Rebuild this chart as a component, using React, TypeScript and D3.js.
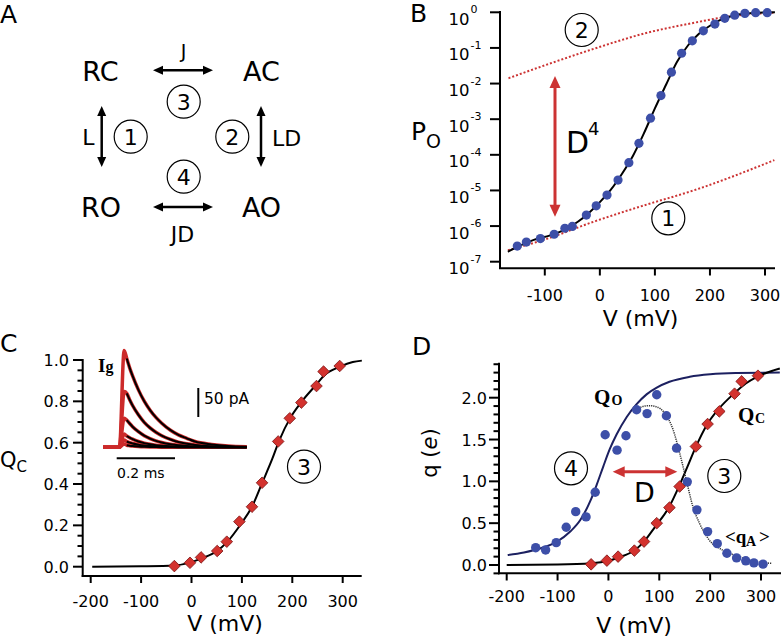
import React from 'react';
import * as d3 from 'd3';

const W = 781, H = 639;
const SANS = "'DejaVu Sans', Verdana, sans-serif";
const SERIF = "'Liberation Serif', 'DejaVu Serif', serif";
const BLUE = '#3d4fa8';
const RED = '#d3322e';
const RED_LINE = '#cc3333';
const NAVY = '#1c2060';

// ---------- Panel B data ----------
const poV = [-150, -133.5, -108, -83, -63.5, -50, -24.5, -6.6, 13, 33, 52.7, 71, 92, 111, 130, 148.5, 168, 188, 209, 227, 245, 263.5, 283, 304];
const poVal = [2.75e-7, 3.55e-7, 4.47e-7, 5.89e-7, 8.7e-7, 9.8e-7, 2.04e-6, 3.7e-6, 7.4e-6, 1.95e-5, 6.0e-5, 2.1e-4, 1.07e-3, 4.6e-3, 0.0209, 0.0708, 0.158, 0.302, 0.468, 0.676, 0.832, 0.933, 0.977, 0.977];
const poFitV = [-167, -150, -120, -90, -60, -40, -20, 0, 20, 40, 60, 80, 100, 120, 140, 160, 180, 200, 220, 240, 260, 280, 300, 318];
const poFitVal = [1.9e-7, 2.6e-7, 4.1e-7, 5.5e-7, 8.5e-7, 1.32e-6, 2.34e-6, 4.7e-6, 1.05e-5, 2.9e-5, 9.3e-5, 4.0e-4, 2.0e-3, 9.1e-3, 0.04, 0.117, 0.25, 0.42, 0.62, 0.79, 0.91, 0.966, 0.99, 1.0];
const lim1V = [-167, -100, -8, 80, 172, 317];
const lim1Val = [2.1e-7, 4.2e-7, 1.38e-6, 3.8e-6, 1.02e-5, 7.1e-5];
const lim2V = [-166, -98.5, -8, 82, 172.6, 233, 317];
const lim2Val = [0.0141, 0.0331, 0.0977, 0.257, 0.513, 0.759, 0.977];
const poTicks = [1e-7, 1e-6, 1e-5, 1e-4, 1e-3, 1e-2, 1e-1, 1];
const poExps = ['-7', '-6', '-5', '-4', '-3', '-2', '-1', '0'];
const vTicksB = [-100, 0, 100, 200, 300];

// ---------- Panel C / D charge data ----------
const qV = [-34, -3, 19, 51, 70, 95, 120, 140, 172, 195, 218, 248, 262, 294];
const qcNorm = [0.003, 0.019, 0.045, 0.076, 0.121, 0.218, 0.29, 0.406, 0.606, 0.718, 0.794, 0.874, 0.944, 0.971];
const qcFitV = [-197, -100, -34, 0, 20, 50, 71, 99, 120, 141, 160, 174, 196, 219, 249, 263, 295, 320, 338];
const qcFitVal = [0, 0.002, 0.006, 0.022, 0.04, 0.075, 0.12, 0.21, 0.29, 0.41, 0.52, 0.61, 0.72, 0.80, 0.885, 0.925, 0.968, 0.99, 0.997];
const qTicksC = [0, 0.2, 0.4, 0.6, 0.8, 1.0];
const vTicks = [-200, -100, 0, 100, 200, 300];

// gating current inset (t in ms, I in pA)
const igT = [0.029, 0.039, 0.049, 0.069, 0.089, 0.109, 0.129, 0.149, 0.179, 0.206, 0.235, 0.263, 0.32, 0.377, 0.44];
const igTraces = [
  [153, 137, 123, 99, 79.5, 64, 51.5, 41.5, 29.5, 21.5, 15.5, 10, 5, 2.2, 0.8],
  [93, 82, 72, 56, 43, 33.5, 26, 20, 13.5, 9, 6, 4, 1.8, 0.8, 0.3],
  [47, 41, 35.5, 27, 20, 15, 11, 8.2, 5.2, 3.4, 2.2, 1.4, 0.6, 0.2, 0.1],
  [19.5, 16.5, 14, 10, 7.2, 5.2, 3.7, 2.7, 1.6, 1.0, 0.6, 0.4, 0.15, 0.05, 0],
  [9.8, 8, 6.6, 4.5, 3.1, 2.1, 1.4, 1.0, 0.55, 0.3, 0.2, 0.1, 0, 0, 0],
  [3.5, 2.8, 2.2, 1.4, 0.9, 0.6, 0.4, 0.25, 0.1, 0.05, 0, 0, 0, 0, 0],
];
const igPeaks = [167, 96, 50, 23, 12.6, 5.7];
const igPreT = [-0.052, -0.008, 0.004, 0.02];

// ---------- Panel D data ----------
const qoV = [-143, -123.5, -102.6, -83, -64.3, -44, -26, -6.4, 17, 34.5, 55.4, 76, 95, 114, 134, 155, 174, 195, 214, 233, 252, 270, 286, 304];
const qoVal = [0.207, 0.18, 0.267, 0.451, 0.638, 0.575, 0.87, 1.557, 1.373, 1.545, 1.856, 1.81, 2.035, 1.784, 1.397, 0.994, 0.659, 0.399, 0.255, 0.14, 0.085, 0.05, 0.025, 0.01];
const qcD = [0.008, 0.052, 0.1, 0.172, 0.28, 0.5, 0.686, 0.938, 1.417, 1.685, 1.836, 2.048, 2.195, 2.263];
const qoFitV = [-198, -166, -133, -101, -75, -55, -36, -23, -10, 3, 16, 36, 55, 75, 95, 120, 160, 200, 250, 337];
const qoFitVal = [0.12, 0.15, 0.2, 0.28, 0.40, 0.54, 0.76, 0.96, 1.18, 1.39, 1.56, 1.77, 1.92, 2.04, 2.12, 2.19, 2.25, 2.28, 2.295, 2.30];
const qcDFitV = [-200, -100, -34, 0, 20, 50, 70, 91, 119, 138, 155, 171, 194, 216, 247, 270, 292, 337];
const qcDFitVal = [0, 0.005, 0.02, 0.05, 0.09, 0.17, 0.28, 0.45, 0.69, 0.93, 1.17, 1.40, 1.68, 1.86, 2.05, 2.17, 2.25, 2.35];
const qaV = [55, 65, 80, 95, 110, 127, 140, 153, 166, 179, 198, 224, 257, 289, 322];
const qaVal = [1.86, 1.89, 1.905, 1.89, 1.82, 1.62, 1.34, 1.02, 0.70, 0.50, 0.30, 0.18, 0.10, 0.04, 0.02];
const qTicksD = [0, 0.5, 1.0, 1.5, 2.0];

// ---------- scales ----------
const xB = d3.scaleLinear().domain([-100, 300]).range([544.8, 765]);
const yB = d3.scaleLog().domain([1e-7, 1]).range([261.7, 12.3]);
const xC = d3.scaleLinear().domain([-200, 300]).range([90.7, 342.7]);
const yC = d3.scaleLinear().domain([0, 1]).range([566.7, 360]);
const xD = d3.scaleLinear().domain([-200, 300]).range([506.7, 761]);
const yD = d3.scaleLinear().domain([0, 2]).range([565, 397.7]);
const xI = d3.scaleLinear().domain([0, 0.2]).range([118.3, 176.6]);
const yI = d3.scaleLinear().domain([0, 50]).range([447.3, 418.3]);

const pts = (xs: number[], ys: number[], sx: any, sy: any) => xs.map((v, i) => [sx(v), sy(ys[i])] as [number, number]);
const lineM = d3.line().curve(d3.curveMonotoneX);

function DoubleArrow({ x1, y1, x2, y2, color, sw, hl, hw }: any) {
  const dx = x2 - x1, dy = y2 - y1;
  const L = Math.hypot(dx, dy);
  const ux = dx / L, uy = dy / L;
  const px = -uy, py = ux;
  const head = (tx: number, ty: number, dir: number) => {
    const bx = tx - dir * ux * hl, by = ty - dir * uy * hl;
    return `${tx},${ty} ${bx + px * hw / 2},${by + py * hw / 2} ${bx - px * hw / 2},${by - py * hw / 2}`;
  };
  return (
    <g>
      <line x1={x1 + ux * hl * 0.8} y1={y1 + uy * hl * 0.8} x2={x2 - ux * hl * 0.8} y2={y2 - uy * hl * 0.8} stroke={color} strokeWidth={sw} />
      <polygon points={head(x1, y1, -1)} fill={color} />
      <polygon points={head(x2, y2, 1)} fill={color} />
    </g>
  );
}

function Circ({ cx, cy, n }: any) {
  return (
    <g>
      <circle cx={cx} cy={cy} r={16.5} fill="none" stroke="#000" strokeWidth={1.2} />
      <text x={cx} y={cy + 8} textAnchor="middle" fontFamily={SANS} fontSize={22}>{n}</text>
    </g>
  );
}

function Diamond({ x, y }: any) {
  const s = 5.8;
  return <polygon points={`${x},${y - s} ${x + s},${y} ${x},${y + s} ${x - s},${y}`} fill={RED} stroke="#7a1414" strokeWidth={0.8} />;
}

function PanelA() {
  const f = SANS;
  return (
    <g>
      <text x={0} y={23} fontFamily={f} fontSize={25}>A</text>
      <text x={100.5} y={81} textAnchor="middle" fontFamily={f} fontSize={27}>RC</text>
      <text x={261.5} y={81} textAnchor="middle" fontFamily={f} fontSize={27}>AC</text>
      <text x={101} y={217} textAnchor="middle" fontFamily={f} fontSize={27}>RO</text>
      <text x={261.5} y={217} textAnchor="middle" fontFamily={f} fontSize={27}>AO</text>
      <text x={183.5} y={58} textAnchor="middle" fontFamily={f} fontSize={19}>J</text>
      <text x={88.5} y={145} textAnchor="middle" fontFamily={f} fontSize={22}>L</text>
      <text x={272} y={145.5} fontFamily={f} fontSize={22}>LD</text>
      <text x={182.5} y={242} textAnchor="middle" fontFamily={f} fontSize={22}>JD</text>
      <DoubleArrow x1={153} y1={70.3} x2={213} y2={70.3} color="#000" sw={2.5} hl={10} hw={9} />
      <DoubleArrow x1={153} y1={207} x2={213} y2={207} color="#000" sw={2.5} hl={10} hw={9} />
      <DoubleArrow x1={101.7} y1={106} x2={101.7} y2={167} color="#000" sw={2.5} hl={10} hw={9} />
      <DoubleArrow x1={261} y1={106} x2={261} y2={167} color="#000" sw={2.5} hl={10} hw={9} />
      <Circ cx={130.7} cy={136.7} n="1" />
      <Circ cx={232.3} cy={136.7} n="2" />
      <Circ cx={183.7} cy={101.7} n="3" />
      <Circ cx={183.7} cy={176.7} n="4" />
    </g>
  );
}

function PanelB() {
  return (
    <g>
      <text x={410} y={22} fontFamily={SANS} fontSize={25}>B</text>
      <line x1={500} y1={11} x2={500} y2={269} stroke="#000" strokeWidth={2} />
      <line x1={499} y1={268.3} x2={775} y2={268.3} stroke="#000" strokeWidth={2} />
      {poTicks.map((t, i) => (
        <g key={i}>
          <line x1={490} x2={500} y1={yB(t)} y2={yB(t)} stroke="#000" strokeWidth={2} />
          <text x={469.5} y={yB(t) + 12.5} textAnchor="end" fontFamily={SANS} fontSize={16.5}>10</text>
          <text x={470.5} y={yB(t) + 1} fontFamily={SANS} fontSize={11}>{poExps[i]}</text>
        </g>
      ))}
      {vTicksB.map((t) => (
        <g key={t}>
          <line x1={xB(t)} x2={xB(t)} y1={268.3} y2={275.5} stroke="#000" strokeWidth={2} />
          <text x={xB(t)} y={300.5} textAnchor="middle" fontFamily={SANS} fontSize={16}>{t}</text>
        </g>
      ))}
      <text x={640.5} y={326} textAnchor="middle" fontFamily={SANS} fontSize={22}>V (mV)</text>
      <text x={411} y={140} fontFamily={SANS} fontSize={25}>P</text>
      <text x={426} y={148} fontFamily={SANS} fontSize={19}>O</text>
      <path d={lineM(pts(lim1V, lim1Val, xB, yB)) as string} fill="none" stroke={RED_LINE} strokeWidth={2} strokeDasharray="2,2" />
      <path d={lineM(pts(lim2V, lim2Val, xB, yB)) as string} fill="none" stroke={RED_LINE} strokeWidth={2} strokeDasharray="2,2" />
      <path d={lineM(pts(poFitV, poFitVal, xB, yB)) as string} fill="none" stroke="#000" strokeWidth={2} />
      {poV.map((v, i) => (
        <circle key={i} cx={xB(v)} cy={yB(poVal[i])} r={4.6} fill={BLUE} />
      ))}
      <DoubleArrow x1={555} y1={76} x2={555} y2={216.7} color={RED_LINE} sw={3} hl={12} hw={11} />
      <text x={566} y={153} fontFamily={SANS} fontSize={30}>D</text>
      <text x={588} y={135} fontFamily={SANS} fontSize={18}>4</text>
      <Circ cx={581.7} cy={30} n="2" />
      <Circ cx={668.3} cy={218.3} n="1" />
    </g>
  );
}

function PanelC() {
  const minor = d3.range(0, 1.0001, 0.05);
  return (
    <g>
      <text x={0} y={352} fontFamily={SANS} fontSize={25}>C</text>
      <line x1={82.7} y1={359} x2={82.7} y2={577} stroke="#000" strokeWidth={2} />
      <line x1={81.7} y1={576} x2={361.7} y2={576} stroke="#000" strokeWidth={2} />
      {minor.map((t, i) => (
        <line key={i} x1={i % 4 === 0 ? 73 : 77.5} x2={82.7} y1={yC(t)} y2={yC(t)} stroke="#000" strokeWidth={2} />
      ))}
      {qTicksC.map((t) => (
        <text key={t} x={69} y={yC(t) + 6} textAnchor="end" fontFamily={SANS} fontSize={16}>{t.toFixed(1)}</text>
      ))}
      {vTicks.map((t) => (
        <g key={t}>
          <line x1={xC(t)} x2={xC(t)} y1={576} y2={583} stroke="#000" strokeWidth={2} />
          <text x={xC(t)} y={607} textAnchor="middle" fontFamily={SANS} fontSize={16}>{t}</text>
        </g>
      ))}
      <text x={225} y={631} textAnchor="middle" fontFamily={SANS} fontSize={22}>V (mV)</text>
      <text x={0} y={467} fontFamily={SANS} fontSize={21}>Q</text>
      <text x={16.5} y={472} fontFamily={SANS} fontSize={15}>C</text>
      <path d={lineM(pts(qcFitV, qcFitVal, xC, yC)) as string} fill="none" stroke="#000" strokeWidth={2} />
      {qV.map((v, i) => <Diamond key={i} x={xC(v)} y={yC(qcNorm[i])} />)}
      <Circ cx={304} cy={466.7} n="3" />
      {igTraces.map((tr, k) => {
        const tt = [...igPreT, ...igT];
        const vv = [0, 0, 0, igPeaks[k], ...tr];
        return <path key={'r' + k} d={lineM(pts(tt, vv, xI, yI)) as string} fill="none" stroke="#cc2a2a" strokeWidth={3.5} />;
      })}
      {igTraces.map((tr, k) => (
        <path key={'b' + k} d={lineM(pts(igT, tr, xI, yI)) as string} fill="none" stroke="#000" strokeWidth={2} />
      ))}
      <text x={98} y={372} fontFamily={SERIF} fontWeight="bold" fontSize={19}>I</text>
      <text x={105.5} y={372} fontFamily={SERIF} fontWeight="bold" fontSize={16}>g</text>
      <line x1={198.3} x2={198.3} y1={388} y2={417} stroke="#000" strokeWidth={2} />
      <text x={204} y={404} fontFamily={SANS} fontSize={15.5}>50 pA</text>
      <line x1={116.7} x2={175} y1={458.3} y2={458.3} stroke="#000" strokeWidth={2} />
      <text x={117} y={478} fontFamily={SANS} fontSize={14}>0.2 ms</text>
    </g>
  );
}

function PanelD() {
  const minor = d3.range(-1, 25).map((k) => k / 10);
  return (
    <g>
      <text x={412} y={355} fontFamily={SANS} fontSize={25}>D</text>
      <line x1={499} y1={362.7} x2={499} y2={574.3} stroke="#000" strokeWidth={2} />
      <line x1={498} y1={573.3} x2={781} y2={573.3} stroke="#000" strokeWidth={2} />
      {minor.map((t, i) => (
        <line key={i} x1={(i - 1) % 5 === 0 ? 489 : 493.5} x2={499} y1={yD(t)} y2={yD(t)} stroke="#000" strokeWidth={2} />
      ))}
      {qTicksD.map((t) => (
        <text key={t} x={487} y={yD(t) + 6} textAnchor="end" fontFamily={SANS} fontSize={16}>{t.toFixed(1)}</text>
      ))}
      {vTicks.map((t) => (
        <g key={t}>
          <line x1={xD(t)} x2={xD(t)} y1={573.3} y2={580.5} stroke="#000" strokeWidth={2} />
          <text x={xD(t)} y={601.5} textAnchor="middle" fontFamily={SANS} fontSize={16}>{t}</text>
        </g>
      ))}
      <text x={634} y={632.5} textAnchor="middle" fontFamily={SANS} fontSize={22}>V (mV)</text>
      <text transform="translate(437,453) rotate(-90)" textAnchor="middle" fontFamily={SANS} fontSize={21}>
        q (<tspan fontStyle="italic">e</tspan>)
      </text>
      <path d={lineM(pts(qoFitV, qoFitVal, xD, yD)) as string} fill="none" stroke={NAVY} strokeWidth={2} />
      <path d={lineM(pts(qcDFitV, qcDFitVal, xD, yD)) as string} fill="none" stroke="#000" strokeWidth={2} />
      <path d={lineM(pts(qaV, qaVal, xD, yD)) as string} fill="none" stroke="#333" strokeWidth={1.5} strokeDasharray="1.2,1" />
      {qoV.map((v, i) => <circle key={i} cx={xD(v)} cy={yD(qoVal[i])} r={4.7} fill={BLUE} />)}
      {qV.map((v, i) => <Diamond key={i} x={xD(v)} y={yD(qcD[i])} />)}
      <DoubleArrow x1={612.7} y1={471.7} x2={677.3} y2={471.7} color={RED_LINE} sw={3} hl={12} hw={11} />
      <text x={634} y={502} fontFamily={SANS} fontSize={27}>D</text>
      <Circ cx={571} cy={468.3} n="4" />
      <Circ cx={724.3} cy={476} n="3" />
      <text x={594} y={404} fontFamily={SERIF} fontWeight="bold" fontSize={21}>Q</text>
      <text x={611.5} y={405} fontFamily={SERIF} fontWeight="bold" fontSize={14}>O</text>
      <text x={738} y={422} fontFamily={SERIF} fontWeight="bold" fontSize={21}>Q</text>
      <text x={755} y={423} fontFamily={SERIF} fontWeight="bold" fontSize={14}>C</text>
      <text x={725} y={543} fontFamily={SERIF} fontWeight="bold" fontSize={19}>{'<q'}</text>
      <text x={746} y={545.7} fontFamily={SERIF} fontWeight="bold" fontSize={14}>A</text>
      <text x={759} y={543} fontFamily={SERIF} fontWeight="bold" fontSize={19}>{'>'}</text>
    </g>
  );
}

export default function App() {
  return (
    <svg width={W} height={H} viewBox={`0 0 ${W} ${H}`} style={{ position: 'absolute', left: 0, top: 0, background: '#fff' }}>
      <rect x={0} y={0} width={W} height={H} fill="#fff" />
      <PanelA />
      <PanelB />
      <PanelC />
      <PanelD />
    </svg>
  );
}
